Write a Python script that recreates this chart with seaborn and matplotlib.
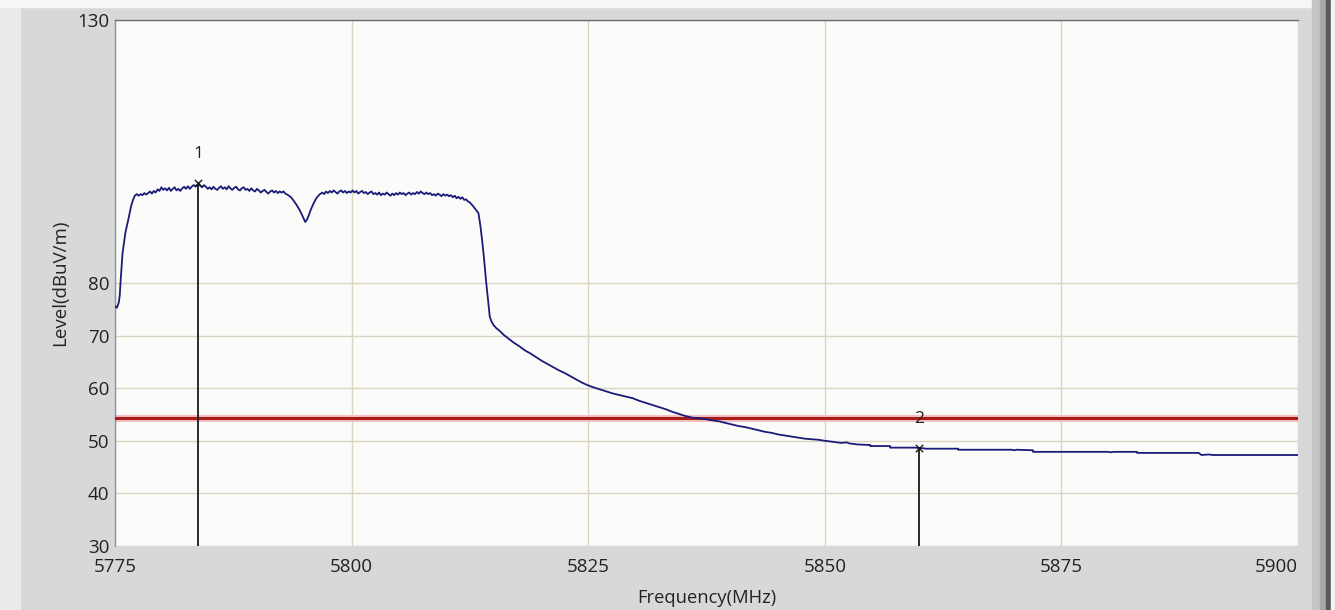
import matplotlib
matplotlib.use("Agg")
import matplotlib.pyplot as plt
from matplotlib.patches import Rectangle
import pandas as pd
import seaborn as sns

# Spectrum trace
freq_mhz = [
    5775.0, 5775.2, 5775.4, 5775.5, 5775.6, 5775.8, 5776.1, 5776.4, 5776.7, 5776.9,
    5777.1, 5777.3, 5777.5, 5777.7, 5777.9, 5778.1, 5778.3, 5778.5, 5778.7, 5778.9,
    5779.1, 5779.3, 5779.5, 5779.7, 5779.9, 5780.1, 5780.3, 5780.5, 5780.7, 5780.9,
    5781.1, 5781.3, 5781.5, 5781.7, 5781.9, 5782.1, 5782.3, 5782.5, 5782.7, 5782.9,
    5783.1, 5783.3, 5783.6, 5783.8, 5784.0, 5784.2, 5784.4, 5784.6, 5784.8, 5785.0,
    5785.2, 5785.4, 5785.6, 5785.8, 5786.0, 5786.2, 5786.4, 5786.6, 5786.8, 5787.0,
    5787.2, 5787.4, 5787.6, 5787.8, 5788.0, 5788.2, 5788.4, 5788.6, 5788.8, 5789.0,
    5789.2, 5789.4, 5789.6, 5789.8, 5790.0, 5790.2, 5790.4, 5790.6, 5790.8, 5791.0,
    5791.2, 5791.4, 5791.6, 5791.8, 5792.0, 5792.2, 5792.4, 5792.6, 5792.8, 5793.0,
    5793.3, 5793.6, 5793.9, 5794.2, 5794.5, 5794.8, 5795.0, 5795.1, 5795.3, 5795.5,
    5795.7, 5796.0, 5796.3, 5796.6, 5796.9, 5797.1, 5797.3, 5797.5, 5797.7, 5797.9,
    5798.1, 5798.3, 5798.5, 5798.7, 5798.9, 5799.1, 5799.3, 5799.5, 5799.7, 5799.9,
    5800.1, 5800.3, 5800.5, 5800.7, 5800.9, 5801.1, 5801.3, 5801.5, 5801.7, 5801.9,
    5802.1, 5802.3, 5802.5, 5802.7, 5802.9, 5803.1, 5803.3, 5803.5, 5803.7, 5803.9,
    5804.1, 5804.3, 5804.5, 5804.7, 5804.9, 5805.1, 5805.3, 5805.5, 5805.7, 5805.9,
    5806.1, 5806.3, 5806.5, 5806.7, 5806.9, 5807.1, 5807.3, 5807.5, 5807.7, 5807.9,
    5808.1, 5808.3, 5808.5, 5808.7, 5808.9, 5809.1, 5809.3, 5809.5, 5809.7, 5809.9,
    5810.1, 5810.3, 5810.5, 5810.7, 5810.9, 5811.1, 5811.3, 5811.5, 5811.7, 5811.9,
    5812.1, 5812.3, 5812.5, 5812.8, 5813.1, 5813.4, 5813.6, 5813.8, 5814.0, 5814.2,
    5814.4, 5814.6, 5814.8, 5815.0, 5815.3, 5815.7, 5816.1, 5816.6, 5817.1, 5817.7,
    5818.3, 5818.9, 5819.5, 5820.1, 5820.7, 5821.3, 5821.9, 5822.5, 5823.1, 5823.7,
    5824.3, 5824.9, 5825.5, 5826.2, 5826.9, 5827.6, 5828.3, 5829.0, 5829.7, 5830.4,
    5831.1, 5831.8, 5832.5, 5833.2, 5833.9, 5834.6, 5835.3, 5836.0, 5836.7, 5837.4,
    5838.1, 5838.8, 5839.5, 5840.2, 5840.9, 5841.6, 5842.3, 5843.0, 5843.7, 5844.4,
    5845.1, 5845.8, 5846.5, 5847.2, 5847.9, 5848.6, 5849.3, 5850.0, 5850.9, 5851.7,
    5852.3, 5852.6, 5853.5, 5854.8, 5854.8, 5856.9, 5856.9, 5859.6, 5860.0, 5860.4,
    5860.6, 5864.1, 5864.1, 5869.8, 5870.0, 5870.3, 5872.0, 5872.0, 5880.0, 5880.2,
    5880.5, 5881.0, 5883.0, 5883.0, 5889.5, 5889.8, 5890.6, 5891.0, 5900.0,
]
level_dbuv = [
    75.6, 75.3, 76.3, 77.6, 80.6, 85.7, 89.6, 92.0, 94.6, 95.8,
    96.6, 96.9, 96.6, 96.9, 96.7, 97.1, 96.8, 97.1, 97.4, 97.0,
    97.5, 97.2, 97.8, 97.5, 98.2, 97.7, 98.0, 97.6, 98.1, 97.5,
    97.9, 98.2, 97.6, 97.9, 97.5, 98.0, 98.3, 97.9, 98.4, 97.9,
    98.3, 98.6, 98.4, 99.0, 98.5, 98.2, 98.6, 98.3, 97.9, 98.2,
    97.8, 98.3, 97.9, 97.7, 98.1, 98.4, 97.9, 98.2, 97.8, 98.4,
    98.0, 97.7, 98.1, 98.3, 97.8, 97.6, 98.0, 98.2, 97.7, 97.9,
    97.5, 98.0, 97.6, 97.4, 97.9, 97.6, 97.2, 97.5, 97.7, 97.3,
    97.0, 97.4, 97.6, 97.2, 97.5, 97.1, 97.4, 97.2, 97.4, 97.0,
    96.7, 96.3, 95.6, 94.8, 93.9, 92.8, 92.0, 91.6, 92.1, 93.0,
    94.0, 95.2, 96.2, 96.8, 97.2, 96.9, 97.4, 97.1, 97.5, 97.2,
    97.6, 97.3, 97.0, 97.4, 97.6, 97.2, 97.5, 97.1, 97.4, 97.2,
    97.6, 97.2, 97.5, 97.0, 97.3, 97.5, 97.1, 97.3, 96.9, 97.2,
    97.4, 96.9, 97.1, 96.8, 97.2, 96.7, 97.0, 96.8, 97.2, 96.9,
    96.6, 97.0, 96.7, 97.1, 96.8, 97.2, 96.9, 97.1, 96.7, 97.0,
    97.2, 96.8, 97.1, 96.9, 97.3, 97.0, 97.4, 97.1, 96.9, 97.2,
    96.9, 97.1, 96.7, 96.9, 96.6, 97.0, 96.8, 96.5, 96.9, 96.6,
    96.8, 96.5, 96.7, 96.3, 96.6, 96.1, 96.4, 96.0, 96.3, 95.8,
    95.9, 95.5, 95.3, 94.7, 94.0, 93.3, 91.0, 88.0, 84.5, 80.5,
    77.0, 73.6, 72.6, 72.0, 71.4, 70.8, 70.1, 69.4, 68.7, 68.0,
    67.2, 66.6, 65.9, 65.2, 64.6, 64.0, 63.4, 62.9, 62.3, 61.7,
    61.1, 60.6, 60.2, 59.8, 59.4, 59.0, 58.7, 58.4, 58.1, 57.6,
    57.2, 56.8, 56.4, 56.0, 55.5, 55.1, 54.7, 54.4, 54.3, 54.1,
    53.9, 53.7, 53.4, 53.1, 52.8, 52.6, 52.3, 52.0, 51.7, 51.5,
    51.2, 51.0, 50.8, 50.6, 50.4, 50.3, 50.2, 50.0, 49.8, 49.6,
    49.7, 49.5, 49.3, 49.2, 49.0, 49.0, 48.7, 48.7, 48.6, 48.6,
    48.5, 48.5, 48.3, 48.3, 48.2, 48.3, 48.2, 47.9, 47.9, 47.8,
    47.9, 47.9, 47.9, 47.7, 47.7, 47.3, 47.4, 47.3, 47.3,
]

limit_level = 54.3
marker_freq = [5783.8, 5860.0]
marker_level = [99.0, 48.6]
marker_names = ["1", "2"]

x_ticks = [5775, 5800, 5825, 5850, 5875, 5900]
y_ticks = [30, 40, 50, 60, 70, 80, 130]

sns.set_theme(style="white")
plt.rcParams['font.family'] = ['Open Sans', 'DejaVu Sans']

W, H = 1335, 610
fig = plt.figure(figsize=(W / 100, H / 100), dpi=100, facecolor='#d8d8d8')

# window frame bits
fig.patches.extend([
    Rectangle((0, 0), 20 / W, 1, transform=fig.transFigure, color='#ebebeb', zorder=-5),
    Rectangle((0, 1 - 7 / H), 1, 7 / H, transform=fig.transFigure, color='#f7f7f7', zorder=-5),
    Rectangle((1312 / W, 0), 8 / W, 1, transform=fig.transFigure, color='#c4c4c4', zorder=-5),
    Rectangle((1320 / W, 0), 6 / W, 1, transform=fig.transFigure, color='#a8a8a8', zorder=-5),
    Rectangle((1326 / W, 0), 5 / W, 1, transform=fig.transFigure, color='#5a5a5a', zorder=-5),
    Rectangle((1331 / W, 0), 4 / W, 1, transform=fig.transFigure, color='#f4f4f4', zorder=-5),
])

ax = fig.add_axes([115 / W, 1 - 546 / H, (1298 - 115) / W, (546 - 20) / H])
ax.set_facecolor('#fbfbf9')

df = pd.DataFrame({'Frequency': freq_mhz, 'Level': level_dbuv})
sns.lineplot(data=df, x='Frequency', y='Level', ax=ax, color='#1b1b7a',
             linewidth=1.3, sort=False, estimator=None, zorder=4)

# limit line with soft halo
ax.axhline(limit_level, color='#f3c0c0', linewidth=5, zorder=2)
ax.axhline(limit_level, color='#a81c1c', linewidth=2.2, zorder=3)

# markers
ax.vlines(marker_freq, 30, marker_level, color='#1a1a1a', linewidth=1.3, zorder=5)
ax.scatter(marker_freq, marker_level, marker='x', s=28, color='#1a1a1a',
           linewidths=1.0, zorder=6)
for f, lv, name in zip(marker_freq, marker_level, marker_names):
    ax.annotate(name, (f, lv), xytext=(0, 21), textcoords='offset points',
                ha='center', va='center', fontsize=12.5, color='#222222', zorder=7)

ax.set_xlim(5775, 5900)
ax.set_ylim(30, 130)
ax.set_xticks(x_ticks)
ax.set_yticks(y_ticks)
ax.grid(True, color='#dad5c2', linewidth=1.0, zorder=0)

ax.tick_params(axis='both', length=0, labelsize=13.5, colors='#222222')
ax.tick_params(axis='x', pad=9)
ax.tick_params(axis='y', pad=4)
ax.get_xticklabels()[-1].set_horizontalalignment('right')

for side in ['right', 'bottom']:
    ax.spines[side].set_visible(False)
ax.spines['left'].set_color('#8797ab')
ax.spines['top'].set_color('#6e6e6e')
ax.spines['left'].set_linewidth(1.0)
ax.spines['top'].set_linewidth(1.0)

ax.set_xlabel('Frequency(MHz)', fontsize=13.2, color='#222222')
ax.xaxis.set_label_coords(0.5, -0.082)
ax.set_ylabel('Level(dBuV/m)', fontsize=13.5, color='#222222', va='center')
ax.yaxis.set_label_coords(-0.0465, 0.5)

fig.savefig('out.png', dpi=100, facecolor=fig.get_facecolor())
